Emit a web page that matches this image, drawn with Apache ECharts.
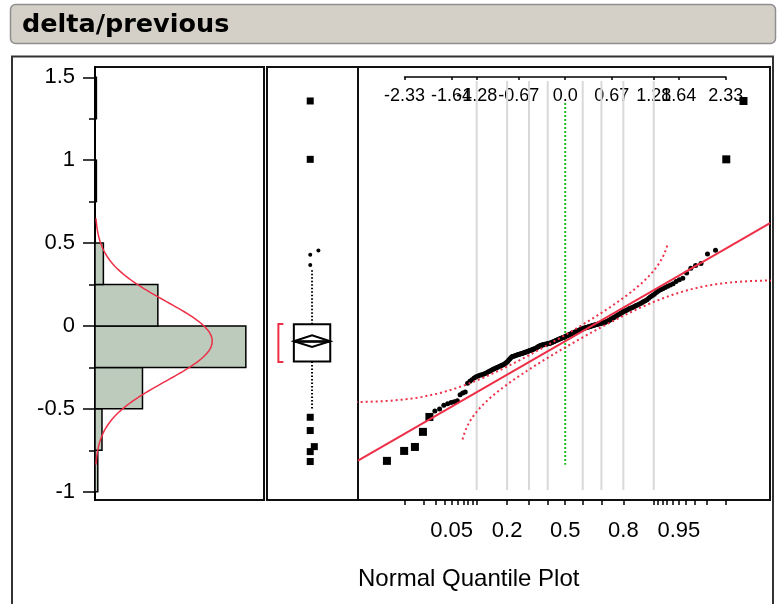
<!DOCTYPE html>
<html><head><meta charset="utf-8">
<script src="https://cdn.jsdelivr.net/npm/echarts@6/dist/echarts.min.js"></script>
<style>html,body{margin:0;padding:0;background:#fff}#c{width:780px;height:604px}</style>
</head><body><div id="c"></div>
<script>
// ================= DATA =================
const titleText = 'delta/previous';
const qqAxisTitle = 'Normal Quantile Plot';
const yTickValues = [-1, -0.5, 0, 0.5, 1, 1.5];
const yTickLabels = ['-1', '-0.5', '0', '0.5', '1', '1.5'];
const yMinorTickValues = [-0.75, -0.25, 0.25, 0.75, 1.25];
// histogram (bin lower edges, width 0.25) and counts
const binLows = [-1, -0.75, -0.5, -0.25, 0, 0.25, 0.5, 0.75, 1, 1.25];
const binWidth = 0.25;
const binCounts = [2, 5, 34, 108, 45, 6, 0, 1, 0, 1];
// fitted normal
const fitMean = -0.092;
const fitSd = 0.24;
const lillieforsD = 0.0618;
// outlier box plot
const boxQ1 = -0.215, boxMedian = -0.095, boxQ3 = 0.010;
const whiskerLow = -0.507, whiskerHigh = 0.348;
const meanCI = 0.035;
const shortestHalf = [-0.217, 0.012];
const outlierSquares = [1.357, 1.005, -0.551, -0.631, -0.728, -0.758, -0.818];
const outlierDots = [0.455, 0.430, 0.368];
// normal quantile plot: sorted observed values
const qqValues = [
 -0.814,-0.754,-0.730,-0.639,-0.549,-0.513,-0.501,-0.478,-0.470,-0.462,-0.458,-0.452,-0.415,-0.405,-0.398,-0.345,
 -0.334,-0.324,-0.314,-0.306,-0.302,-0.298,-0.294,-0.291,-0.287,-0.282,-0.277,-0.272,-0.267,-0.262,-0.258,-0.254,-0.250,-0.246,-0.243,-0.239,-0.235,-0.232,-0.227,-0.221,-0.214,-0.206,-0.198,-0.190,-0.185,-0.183,-0.181,-0.178,-0.176,-0.174,-0.172,
 -0.170,-0.168,-0.166,-0.164,-0.161,-0.159,-0.157,-0.155,-0.152,-0.150,-0.148,-0.146,-0.143,-0.141,-0.139,-0.137,-0.134,-0.131,-0.127,-0.124,-0.121,-0.118,-0.117,-0.115,-0.114,-0.113,-0.111,-0.110,-0.109,-0.108,-0.106,-0.105,-0.104,-0.101,-0.099,-0.097,-0.095,-0.092,-0.090,-0.088,-0.085,-0.083,-0.081,-0.079,-0.076,-0.074,-0.072,-0.070,-0.068,-0.065,
 -0.063,-0.060,-0.058,-0.056,-0.053,-0.051,-0.049,-0.046,-0.044,-0.042,-0.039,-0.037,-0.035,-0.032,-0.030,-0.028,-0.025,-0.023,-0.021,-0.018,-0.016,-0.014,-0.012,-0.011,-0.009,-0.008,-0.006,-0.005,-0.003,-0.001,0.000,0.002,0.004,0.005,0.007,0.008,0.010,0.012,0.013,0.015,0.017,0.018,0.020,0.022,0.023,0.025,0.028,0.031,0.035,0.039,
 0.043,0.047,0.051,0.054,0.059,0.063,0.067,0.071,0.075,0.079,0.084,0.088,0.091,0.095,0.099,0.103,0.106,0.110,0.114,0.118,0.123,0.127,0.131,0.136,0.142,0.147,0.152,0.158,0.167,0.176,0.184,0.191,0.202,0.211,0.219,0.225,0.232,0.240,0.247,0.255,0.268,0.279,0.288,0.320,0.348,0.365,0.377,0.434,0.456,1.005,1.357
];
const zTickValues = [-2.326, -1.645, -1.282, -0.674, 0, 0.674, 1.282, 1.645, 2.326];
const zTickLabels = ['-2.33', '-1.64', '-1.28', '-0.67', '0.0', '0.67', '1.28', '1.64', '2.33'];
const probTicks = [0.01,0.02,0.03,0.04,0.05,0.06,0.07,0.08,0.09,0.1,0.2,0.3,0.4,0.5,0.6,0.7,0.8,0.9,0.91,0.92,0.93,0.94,0.95,0.96,0.97,0.98,0.99];
const probLabels = [0.05, 0.2, 0.5, 0.8, 0.95];
const probLabelText = ['0.05', '0.2', '0.5', '0.8', '0.95'];
const probGridLines = [0.1, 0.2, 0.3, 0.4, 0.6, 0.7, 0.8, 0.9];

// ================= LAYOUT / STYLE =================
const RED = '#ee2f47', FRAME = '#111';
const yMin = -1.05, yMax = 1.562;
const zMin = -3.0, zMax = 2.965;
const histCountMax = 121;
const gTop = 67, gH = 433;
const qqLeft = 358, qqWidth = 412;
const boxCX = 0.495, boxHW = 0.2, bracketX1 = 0.125, bracketX2 = 0.18;
const squareJitter = [-0.02, -0.02, -0.02, -0.02, 0.025, -0.02, -0.02];
const dotJitter = [0.07, -0.02, -0.02];
const gridLineTop = 1.478, gridLineBottom = -0.989;
const greenTop = 1.345, greenBottom = -0.838;
const largeMarkerLow = -0.53, largeMarkerHigh = 0.9;

// ================= HELPERS =================
function normInv(p) {
  const a=[-3.969683028665376e+01,2.209460984245205e+02,-2.759285104469687e+02,1.383577518672690e+02,-3.066479806614716e+01,2.506628277459239e+00];
  const b=[-5.447609879822406e+01,1.615858368580409e+02,-1.556989798598866e+02,6.680131188771972e+01,-1.328068155288572e+01];
  const c=[-7.784894002430293e-03,-3.223964580411365e-01,-2.400758277161838e+00,-2.549732539343734e+00,4.374664141464968e+00,2.938163982698783e+00];
  const d=[7.784695709041462e-03,3.224671290700398e-01,2.445134137142996e+00,3.754408661907416e+00];
  const pl = 0.02425, ph = 1 - pl; let q, r;
  if (p < pl) { q = Math.sqrt(-2*Math.log(p)); return (((((c[0]*q+c[1])*q+c[2])*q+c[3])*q+c[4])*q+c[5])/((((d[0]*q+d[1])*q+d[2])*q+d[3])*q+1); }
  if (p > ph) { q = Math.sqrt(-2*Math.log(1-p)); return -(((((c[0]*q+c[1])*q+c[2])*q+c[3])*q+c[4])*q+c[5])/((((d[0]*q+d[1])*q+d[2])*q+d[3])*q+1); }
  q = p - 0.5; r = q*q;
  return (((((a[0]*r+a[1])*r+a[2])*r+a[3])*r+a[4])*r+a[5])*q/(((((b[0]*r+b[1])*r+b[2])*r+b[3])*r+b[4])*r+1);
}
function normCdf(x) {
  const z = Math.abs(x) / Math.SQRT2, t = 1 / (1 + 0.3275911 * z);
  const y = 1 - (((((1.061405429*t - 1.453152027)*t) + 1.421413741)*t - 0.284496736)*t + 0.254829592)*t*Math.exp(-z*z);
  return 0.5 * (1 + (x >= 0 ? y : -y));
}
function nearestLabel(v, vals, labels) {
  let bi = 0; for (let i = 1; i < vals.length; i++) if (Math.abs(vals[i]-v) < Math.abs(vals[bi]-v)) bi = i;
  return labels[bi];
}

// ================= DERIVED =================
const nObs = binCounts.reduce((s, c) => s + c, 0);
const histData = binLows.map((lo, i) => [lo, lo + binWidth, binCounts[i]]);
const curve = [];
for (let v = fitMean - 3.1*fitSd; v <= fitMean + 3.1*fitSd + 1e-9; v += 0.005) {
  const zz = (v - fitMean) / fitSd;
  curve.push([nObs * binWidth * Math.exp(-0.5*zz*zz) / (fitSd*Math.sqrt(2*Math.PI)), v]);
}
const nQQ = qqValues.length;
const qqSmall = [], qqLarge = [];
qqValues.forEach((v, i) => {
  const pt = [normInv((i+1)/(nQQ+1)), v];
  if (v < largeMarkerLow || v > largeMarkerHigh) qqLarge.push(pt); else qqSmall.push(pt);
});
const fitLine = [[zMin, fitMean + fitSd*zMin], [zMax, fitMean + fitSd*zMax]];
const upperBand = [], lowerBand = [];
for (let w = -2.47; w <= 2.4701; w += 0.01) {
  const P = normCdf(w), v = fitMean + fitSd*w;
  if (P - lillieforsD > 1e-5) upperBand.push([Math.max(normInv(P - lillieforsD), -6), v]);
  if (P + lillieforsD < 1 - 1e-5) lowerBand.push([Math.min(normInv(P + lillieforsD), 6), v]);
}
const pxPerZ = qqWidth / (zMax - zMin);
const rulerLeft = qqLeft + (zTickValues[0] - zMin) * pxPerZ;
const rulerWidth = (zTickValues[zTickValues.length-1] - zTickValues[0]) * pxPerZ;
const probTickZ = probTicks.map(normInv);
const probLabelZ = probLabels.map(normInv);

// ================= CHART =================
const chart = echarts.init(document.getElementById('c'), null, {renderer: 'canvas'});
const TXT = {color: '#000', fontFamily: '"Liberation Sans", Arial, sans-serif'};
const frame = {show: true, borderColor: FRAME, borderWidth: 2, backgroundColor: 'transparent'};
const solid = {color: '#000', opacity: 1};
chart.setOption({
  animation: false,
  backgroundColor: '#fff',
  grid: [
    Object.assign({left: 95, top: gTop, width: 169, height: gH}, frame),
    Object.assign({left: 267, top: gTop, width: 91, height: gH}, frame),
    Object.assign({left: qqLeft, top: gTop, width: qqWidth, height: gH}, frame),
    {left: rulerLeft, top: 77, width: rulerWidth, height: 10}
  ],
  xAxis: [
    {type: 'value', gridIndex: 0, min: 0, max: histCountMax, show: false},
    {type: 'value', gridIndex: 1, min: 0, max: 1, show: false},
    {type: 'value', gridIndex: 2, min: zMin, max: zMax, position: 'bottom',
     axisLine: {show: false, onZero: false}, splitLine: {show: false},
     axisTick: {show: true, customValues: probTickZ, length: 5, lineStyle: {color: '#000', width: 1.5}},
     axisLabel: {show: true, customValues: probLabelZ, margin: 20, fontSize: 22, ...TXT,
       formatter: v => nearestLabel(v, probLabelZ, probLabelText)}},
    {type: 'value', gridIndex: 3, min: zTickValues[0], max: zTickValues[zTickValues.length-1], position: 'top',
     axisLine: {show: true, onZero: false, lineStyle: {color: '#000', width: 1.5}}, splitLine: {show: false},
     axisTick: {show: true, inside: true, customValues: zTickValues, length: 3, lineStyle: {color: '#000', width: 1.5}},
     axisLabel: {show: true, inside: true, customValues: zTickValues, margin: 10, fontSize: 18, ...TXT,
       formatter: v => nearestLabel(v, zTickValues, zTickLabels)}}
  ],
  yAxis: [
    {type: 'value', gridIndex: 0, min: yMin, max: yMax, position: 'left',
     axisLine: {show: true, onZero: false, lineStyle: {color: '#000', width: 2}}, splitLine: {show: false},
     axisTick: {show: true, customValues: yTickValues, length: 12, lineStyle: {color: '#000', width: 1.5}},
     axisLabel: {show: true, customValues: yTickValues, margin: 20, fontSize: 22, ...TXT,
       formatter: v => nearestLabel(v, yTickValues, yTickLabels)}},
    {type: 'value', gridIndex: 0, min: yMin, max: yMax, position: 'left',
     axisLine: {show: false, onZero: false}, splitLine: {show: false}, axisLabel: {show: false},
     axisTick: {show: true, customValues: yMinorTickValues, length: 6, lineStyle: {color: '#000', width: 1.5}}},
    {type: 'value', gridIndex: 1, min: yMin, max: yMax, show: false},
    {type: 'value', gridIndex: 2, min: yMin, max: yMax, show: false},
    {type: 'value', gridIndex: 3, min: 0, max: 1, show: false}
  ],
  graphic: [
    {type: 'rect', z: 0, shape: {x: 10.5, y: 4.5, width: 765, height: 39, r: 5},
     style: {fill: '#d4d0c8', stroke: '#8f8f8f', lineWidth: 1.5}},
    {type: 'text', z: 1, x: 22, y: 25, style: {text: titleText, fill: '#000', fontSize: 25.5, fontWeight: 'bold',
     fontFamily: '"DejaVu Sans", sans-serif', verticalAlign: 'middle'}},
    {type: 'rect', z: 0, shape: {x: 12, y: 56.5, width: 761, height: 600},
     style: {fill: null, stroke: '#333', lineWidth: 2}},
    {type: 'text', z: 1, x: 358, y: 567, style: {text: qqAxisTitle, fill: '#000', fontSize: 24,
     fontFamily: '"Liberation Sans", Arial, sans-serif', verticalAlign: 'top'}}
  ],
  series: [
    // histogram bars
    {type: 'custom', xAxisIndex: 0, yAxisIndex: 0, data: histData, encode: {x: 2, y: [0, 1]},
     renderItem: (params, api) => {
       const cnt = api.value(2); if (!cnt) return null;
       const p1 = api.coord([0, api.value(1)]), p2 = api.coord([cnt, api.value(0)]);
       return {type: 'rect', shape: {x: p1[0], y: p1[1], width: p2[0]-p1[0], height: p2[1]-p1[1]},
               style: {fill: '#bccbbb', stroke: '#000', lineWidth: 1.5}};
     }},
    // normal density curve
    {type: 'line', xAxisIndex: 0, yAxisIndex: 0, data: curve, showSymbol: false, smooth: false,
     lineStyle: {color: RED, width: 1.5}, z: 3},
    // box plot
    {type: 'custom', xAxisIndex: 1, yAxisIndex: 2, data: [[boxCX, boxMedian]],
     renderItem: (params, api) => {
       const c = (x, y) => api.coord([x, y]);
       const tl = c(boxCX - boxHW, boxQ3), br = c(boxCX + boxHW, boxQ1);
       const L = c(boxCX - boxHW, fitMean), R = c(boxCX + boxHW, fitMean);
       const T = c(boxCX, fitMean + meanCI), B = c(boxCX, fitMean - meanCI);
       const ml = c(boxCX - boxHW, boxMedian), mr = c(boxCX + boxHW, boxMedian);
       const wt = c(boxCX, whiskerHigh), wb = c(boxCX, whiskerLow);
       const q3c = c(boxCX, boxQ3), q1c = c(boxCX, boxQ1);
       const s = {stroke: '#000', lineWidth: 2, fill: null};
       const dot = {stroke: '#000', lineWidth: 2, lineDash: [1.5, 2], fill: null};
       const b1 = c(bracketX1, shortestHalf[1]), b2 = c(bracketX2, shortestHalf[1]);
       const b3 = c(bracketX1, shortestHalf[0]), b4 = c(bracketX2, shortestHalf[0]);
       return {type: 'group', children: [
         {type: 'line', shape: {x1: q3c[0], y1: q3c[1], x2: wt[0], y2: wt[1]}, style: dot},
         {type: 'line', shape: {x1: q1c[0], y1: q1c[1], x2: wb[0], y2: wb[1]}, style: dot},
         {type: 'rect', shape: {x: tl[0], y: tl[1], width: br[0]-tl[0], height: br[1]-tl[1]}, style: s},
         {type: 'line', shape: {x1: ml[0], y1: ml[1], x2: mr[0], y2: mr[1]}, style: s},
         {type: 'line', shape: {x1: L[0], y1: L[1], x2: R[0], y2: R[1]}, style: s},
         {type: 'polygon', shape: {points: [L, T, R, B]}, style: s},
         {type: 'polyline', shape: {points: [b2, b1, b3, b4]}, style: {stroke: RED, lineWidth: 2, fill: null}}
       ]};
     }},
    {type: 'scatter', xAxisIndex: 1, yAxisIndex: 2, symbol: 'rect', symbolSize: 7,
     itemStyle: solid, data: outlierSquares.map((v, i) => [boxCX + squareJitter[i], v])},
    {type: 'scatter', xAxisIndex: 1, yAxisIndex: 2, symbol: 'circle', symbolSize: 4,
     itemStyle: solid, data: outlierDots.map((v, i) => [boxCX + dotJitter[i], v])},
    // QQ plot gridlines
    {type: 'custom', xAxisIndex: 2, yAxisIndex: 3, data: probGridLines.map(p => [normInv(p)]), z: 1,
     renderItem: (params, api) => {
       const a = api.coord([api.value(0), gridLineTop]), b = api.coord([api.value(0), gridLineBottom]);
       return {type: 'line', shape: {x1: a[0], y1: a[1], x2: b[0], y2: b[1]}, style: {stroke: '#d9d9d9', lineWidth: 2}};
     }},
    // green reference line at median quantile
    {type: 'line', xAxisIndex: 2, yAxisIndex: 3, data: [[0, greenTop], [0, greenBottom]], showSymbol: false,
     lineStyle: {color: '#1fbf1f', width: 2, type: [2, 2]}, z: 2},
    // QQ points
    {type: 'scatter', xAxisIndex: 2, yAxisIndex: 3, data: qqSmall, symbol: 'circle', symbolSize: 5,
     itemStyle: solid, z: 3},
    {type: 'scatter', xAxisIndex: 2, yAxisIndex: 3, data: qqLarge, symbol: 'rect', symbolSize: 8,
     itemStyle: solid, z: 3},
    // fitted line and confidence bands
    {type: 'line', xAxisIndex: 2, yAxisIndex: 3, data: fitLine, showSymbol: false,
     lineStyle: {color: RED, width: 2}, z: 4},
    {type: 'line', xAxisIndex: 2, yAxisIndex: 3, data: upperBand, showSymbol: false, clip: true,
     lineStyle: {color: RED, width: 2, type: [2, 3]}, z: 4},
    {type: 'line', xAxisIndex: 2, yAxisIndex: 3, data: lowerBand, showSymbol: false, clip: true,
     lineStyle: {color: RED, width: 2, type: [2, 3]}, z: 4}
  ]
});
</script></body></html>
